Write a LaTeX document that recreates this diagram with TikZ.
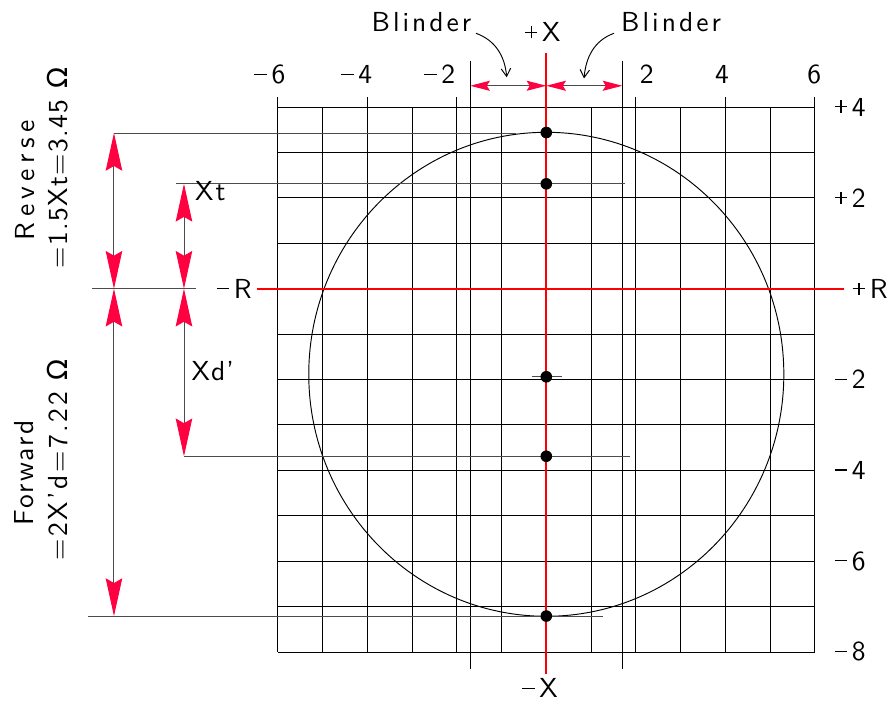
\documentclass[tikz,border=0pt]{standalone}
\usepackage{fontspec}
\usetikzlibrary{arrows.meta}
\newfontfamily\cad{lmsans10-regular.otf}
\newfontfamily\dvs{DejaVu Sans}
\definecolor{axisred}{RGB}{255,0,0}
\definecolor{tipred}{RGB}{255,0,64}
\newcommand\mn{\rule[0.32em]{0.45em}{0.05em}\hspace{0.17em}}
\newcommand\pl{\rlap{\rule[0.32em]{0.45em}{0.05em}}\hspace{0.2em}\rule[0.12em]{0.05em}{0.45em}\hspace{0.2em}\hspace{0.17em}}
\newcommand\ls[2]{{\addfontfeatures{LetterSpace=#1}#2}}
\tikzset{
  gridline/.style={black, line width=0.55pt},
  axisline/.style={axisred, line width=1.3pt},
  dimline/.style={black!70, line width=0.6pt},
  bigdim/.style={dimline, {Stealth[length=24pt,width=10.5pt,inset=3pt,color=tipred]}-{Stealth[length=24pt,width=10.5pt,inset=3pt,color=tipred]}},
  smalldim/.style={dimline, {Stealth[length=12.5pt,width=6.4pt,inset=2pt,color=tipred]}-{Stealth[length=12.5pt,width=6.4pt,inset=2pt,color=tipred]}},
  leader/.style={black, line width=0.6pt, -{Straight Barb[length=5pt,width=6pt]}},
  dotmark/.style={circle, fill=black, inner sep=0pt, minimum size=0.26cm},
  lbl/.style={inner sep=0pt, outer sep=0pt},
}
\begin{document}
\begin{tikzpicture}[x=1cm, y=1.015cm, font={\cad\fontsize{17.5pt}{20pt}\selectfont}]
\useasboundingbox (-12.213,-9.126) rectangle (7.639,6.359);
% grid
\foreach \i in {-8,...,4} \draw[gridline] (-6,\i) -- (6,\i);
\foreach \i in {-5,-3,-1,1,3,5} \draw[gridline] (\i,-8) -- (\i,4);
\foreach \i in {-6,-4,-2,2,4,6} \draw[gridline] (\i,-8) -- (\i,4.23);
% blinders
\coordinate (blLt) at (-1.7,5.01); \coordinate (blLb) at (-1.7,-8.38);
\coordinate (blRt) at (1.7,5.01);  \coordinate (blRb) at (1.7,-8.38);
\draw[gridline] (blLt) -- (blLb);
\draw[gridline] (blRt) -- (blRb);
% circle
\draw[black, line width=0.6pt] (0,-1.885) ellipse [x radius=5.31, y radius=5.33];
% extension lines
\coordinate (tA) at (-9.665,3.43); \coordinate (tAe) at (-0.68,3.43);
\coordinate (sAs) at (-8.28,2.31); \coordinate (sA) at (-8.10,2.31); \coordinate (sAe) at (1.77,2.31);
\coordinate (rS) at (-10.16,0); \coordinate (tR) at (-9.665,0); \coordinate (sR) at (-8.10,0); \coordinate (rE) at (-7.83,0);
\coordinate (sB) at (-8.10,-3.69); \coordinate (sBe) at (1.86,-3.69);
\coordinate (bS) at (-10.24,-7.21); \coordinate (tB) at (-9.665,-7.21); \coordinate (bE) at (1.26,-7.21);
\draw[dimline] (tA) -- (tAe);
\draw[dimline] (sAs) -- (sAe);
\draw[dimline] (rS) -- (rE);
\draw[dimline] (sB) -- (sBe);
\draw[dimline] (bS) -- (bE);
% vertical dimensions
\draw[bigdim] (tA) -- (tR);
\draw[bigdim] (tR) -- (tB);
\draw[bigdim] (sA) -- (sR);
\draw[bigdim] (sR) -- (sB);
% blinder dimension
\coordinate (bdL) at (-1.7,4.47); \coordinate (bdC) at (0,4.47); \coordinate (bdR) at (1.7,4.47);
\draw[smalldim] (bdL) -- (bdC);
\draw[smalldim] (bdC) -- (bdR);
% red axes
\coordinate (axT) at (0,5.185); \coordinate (axB) at (0,-8.49);
\coordinate (axL) at (-6.47,0); \coordinate (axR) at (6.66,0);
\draw[axisline] (axT) -- (axB);
\draw[axisline] (axL) -- (axR);
% center tick and dots
\coordinate (ctL) at (-0.33,-1.94); \coordinate (ctR) at (0.34,-1.94);
\draw[dimline] (ctL) -- (ctR);
\node[dotmark] (d1) at (0,3.44) {};
\node[dotmark] (d2) at (0,2.31) {};
\node[dotmark] (d3) at (0,-1.94) {};
\node[dotmark] (d4) at (0,-3.69) {};
\node[dotmark] (d5) at (0,-7.21) {};
% blinder labels and leaders
\node[lbl, anchor=base] (bl1) at (-2.79,5.676) {\ls{11}{Blinder}};
\node[lbl, anchor=base] (bl2) at (2.79,5.676) {\ls{11}{Blinder}};
\coordinate (ld1s) at (-1.572,5.626); \coordinate (ld1e) at (-0.885,4.656);
\coordinate (ld2s) at (1.513,5.626);  \coordinate (ld2e) at (0.843,4.63);
\draw[leader] (ld1s) to[out=-20,in=95] (ld1e);
\draw[leader] (ld2s) to[out=200,in=85] (ld2e);
\node[lbl, anchor=base] (px) at (-0.08,5.44) {\pl X};
\node[lbl] (mx) at (-0.14,-8.80) {\mn X};
\node[lbl, anchor=east] (mr) at (-6.586,0) {\mn R};
\node[lbl, anchor=west] (pr) at (6.85,0) {\pl R};
% top scale labels
\node[lbl, anchor=base] (t1) at (-6.18,4.51) {\mn6};
\node[lbl, anchor=base] (t2) at (-4.24,4.51) {\mn4};
\node[lbl, anchor=base] (t3) at (-2.38,4.51) {\mn2};
\node[lbl, anchor=base] (t4) at (2.245,4.51) {2};
\node[lbl, anchor=base] (t5) at (3.93,4.51) {4};
\node[lbl, anchor=base] (t6) at (5.99,4.51) {6};
% right scale labels
\node[lbl, anchor=west] (r1) at (6.45,4) {\pl4};
\node[lbl, anchor=west] (r2) at (6.45,2) {\pl2};
\node[lbl, anchor=west] (r3) at (6.45,-2) {\mn2};
\node[lbl, anchor=west] (r4) at (6.45,-4) {\mn4};
\node[lbl, anchor=west] (r5) at (6.45,-6) {\mn6};
\node[lbl, anchor=west] (r6) at (6.45,-8) {\mn8};
% dimension labels
\node[lbl, anchor=west] (xt) at (-7.85,2.14) {\ls{8}{Xt}};
\node[lbl, anchor=west] (xd) at (-7.93,-1.81) {\ls{4}{Xd’}};
\node[lbl, rotate=90] (rev1) at (-11.66,2.39) {\ls{20}{Reverse}};
\node[lbl, rotate=90] (rev2) at (-10.92,2.66) {\ls{5}{=1.5Xt=3.45 {\dvs Ω}}};
\node[lbl, rotate=90] (fwd1) at (-11.68,-4.06) {\ls{8}{Forward}};
\node[lbl, rotate=90] (fwd2) at (-10.92,-3.77) {\ls{9}{=2X’d=7.22 {\dvs Ω}}};
\end{tikzpicture}
\end{document}
